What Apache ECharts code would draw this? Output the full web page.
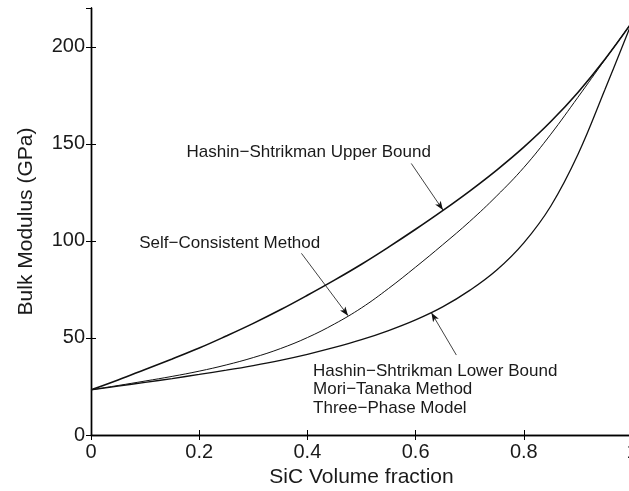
<!DOCTYPE html>
<html>
<head>
<meta charset="utf-8">
<script src="https://cdn.jsdelivr.net/npm/echarts@6/dist/echarts.min.js"></script>
<style>
  html, body { margin: 0; padding: 0; background: #fff; }
  #chart { width: 629px; height: 491px; }
</style>
</head>
<body>
<div id="chart"></div>
<script>
// SiC volume fraction (x) and effective bulk modulus in GPa for each model
const volumeFraction = [0, 0.05, 0.1, 0.15, 0.2, 0.25, 0.3, 0.35, 0.4, 0.45, 0.5,
                        0.55, 0.6, 0.65, 0.7, 0.75, 0.8, 0.85, 0.9, 0.95, 1.0];
const hsUpper = [23.3, 28.4, 33.8, 39.2, 44.8, 51, 57.5, 64.5, 72, 79.8, 88,
                 96.8, 106, 115.6, 125.7, 136.5, 148.3, 161.5, 176.5, 193.6, 212.7];
const selfConsistent = [23.3, 25.5, 27.8, 30.2, 32.9, 36.1, 39.9, 44.5, 50.2, 57.2, 65.5,
                        75.5, 86.5, 98, 110, 123.2, 137.8, 155, 174, 193.4, 212.7];
const hsLower = [23.3, 25.2, 27.1, 29.1, 31.2, 33.4, 35.8, 38.5, 41.6, 45.1, 49.1,
                 53.8, 59.3, 66, 74.5, 85, 99, 118, 144.5, 178, 212.7];

// Annotation text anchors and arrows, in data units [x, y]
const upperLabel = { text: 'Hashin\u2212Shtrikman Upper Bound', at: [0.1767, 145.9],
                     arrow: [[0.592, 139.9], [0.6506, 115.9]] };
const scLabel = { text: 'Self\u2212Consistent Method', at: [0.0892, 98.7],
                  arrow: [[0.389, 93.6], [0.4752, 61.5]] };
const lowerLabel = { text: 'Hashin\u2212Shtrikman Lower Bound\nMori\u2212Tanaka Method\nThree\u2212Phase Model',
                     at: [0.4105, 23.4], arrow: [[0.6753, 41.2], [0.6292, 63]] };

const FONT = '"Liberation Sans", Arial, Helvetica, sans-serif';
const INK = '#111';

function pairs(ys) { return volumeFraction.map((x, i) => [x, ys[i]]); }

function annotation(a) {
  return {
    markPoint: {
      symbol: 'circle', symbolSize: 0, silent: true,
      label: {
        show: true, position: 'right', distance: 0,
        formatter: a.text, color: '#1a1a1a', fontFamily: FONT,
        fontSize: 17, lineHeight: 18.5, align: 'left'
      },
      data: [{ coord: a.at, value: 0 }]
    },
    markLine: {
      silent: true, symbol: ['none', 'arrow'], symbolSize: [5, 9],
      label: { show: false },
      lineStyle: { color: INK, width: 0.8, type: 'solid' },
      emphasis: { disabled: true },
      data: [[{ coord: a.arrow[0] }, { coord: a.arrow[1] }]]
    }
  };
}

function curve(name, ys, width, a) {
  return Object.assign({
    name: name, type: 'line', data: pairs(ys), smooth: 0.4,
    showSymbol: false, symbol: 'none',
    lineStyle: { color: INK, width: width },
    z: 3
  }, annotation(a));
}

const axisLineStyle = { lineStyle: { color: '#000', width: 1.4 } };
const tickIn = { show: true, inside: true, length: 5, lineStyle: { color: '#000', width: 1 } };
const labelStyle = { color: '#1a1a1a', fontFamily: FONT, fontSize: 20 };

const chart = echarts.init(document.getElementById('chart'), null, { renderer: 'canvas' });
chart.setOption({
  animation: false,
  backgroundColor: '#fff',
  grid: { left: 91, top: 8, width: 541, height: 427, outerBoundsMode: 'none' },
  xAxis: [
    {
      type: 'value', min: 0, max: 1, interval: 0.2, position: 'bottom',
      name: 'SiC Volume fraction', nameLocation: 'middle', nameGap: 27,
      nameTextStyle: { color: '#1a1a1a', fontFamily: FONT, fontSize: 21 },
      axisLine: axisLineStyle, axisTick: tickIn,
      axisLabel: Object.assign({ margin: 7 }, labelStyle),
      splitLine: { show: false }
    },
    {
      type: 'value', min: 0, max: 1, interval: 0.2, position: 'top',
      axisLine: axisLineStyle, axisTick: tickIn,
      axisLabel: { show: false }, splitLine: { show: false }
    }
  ],
  yAxis: [
    {
      type: 'value', min: 0, max: 220, interval: 50, position: 'left',
      name: 'Bulk Modulus (GPa)', nameLocation: 'middle', nameGap: 54,
      nameTextStyle: { color: '#1a1a1a', fontFamily: FONT, fontSize: 21 },
      axisLine: axisLineStyle, axisTick: tickIn,
      axisLabel: Object.assign({ margin: 6, showMaxLabel: false }, labelStyle),
      splitLine: { show: false }
    },
    {
      type: 'value', min: 0, max: 220, interval: 50, position: 'right',
      axisLine: axisLineStyle, axisTick: tickIn,
      axisLabel: { show: false }, splitLine: { show: false }
    }
  ],
  series: [
    curve('Hashin\u2212Shtrikman Upper Bound', hsUpper, 1.6, upperLabel),
    curve('Self\u2212Consistent Method', selfConsistent, 1.0, scLabel),
    curve('Hashin\u2212Shtrikman Lower Bound', hsLower, 1.3, lowerLabel)
  ]
});
</script>
</body>
</html>
